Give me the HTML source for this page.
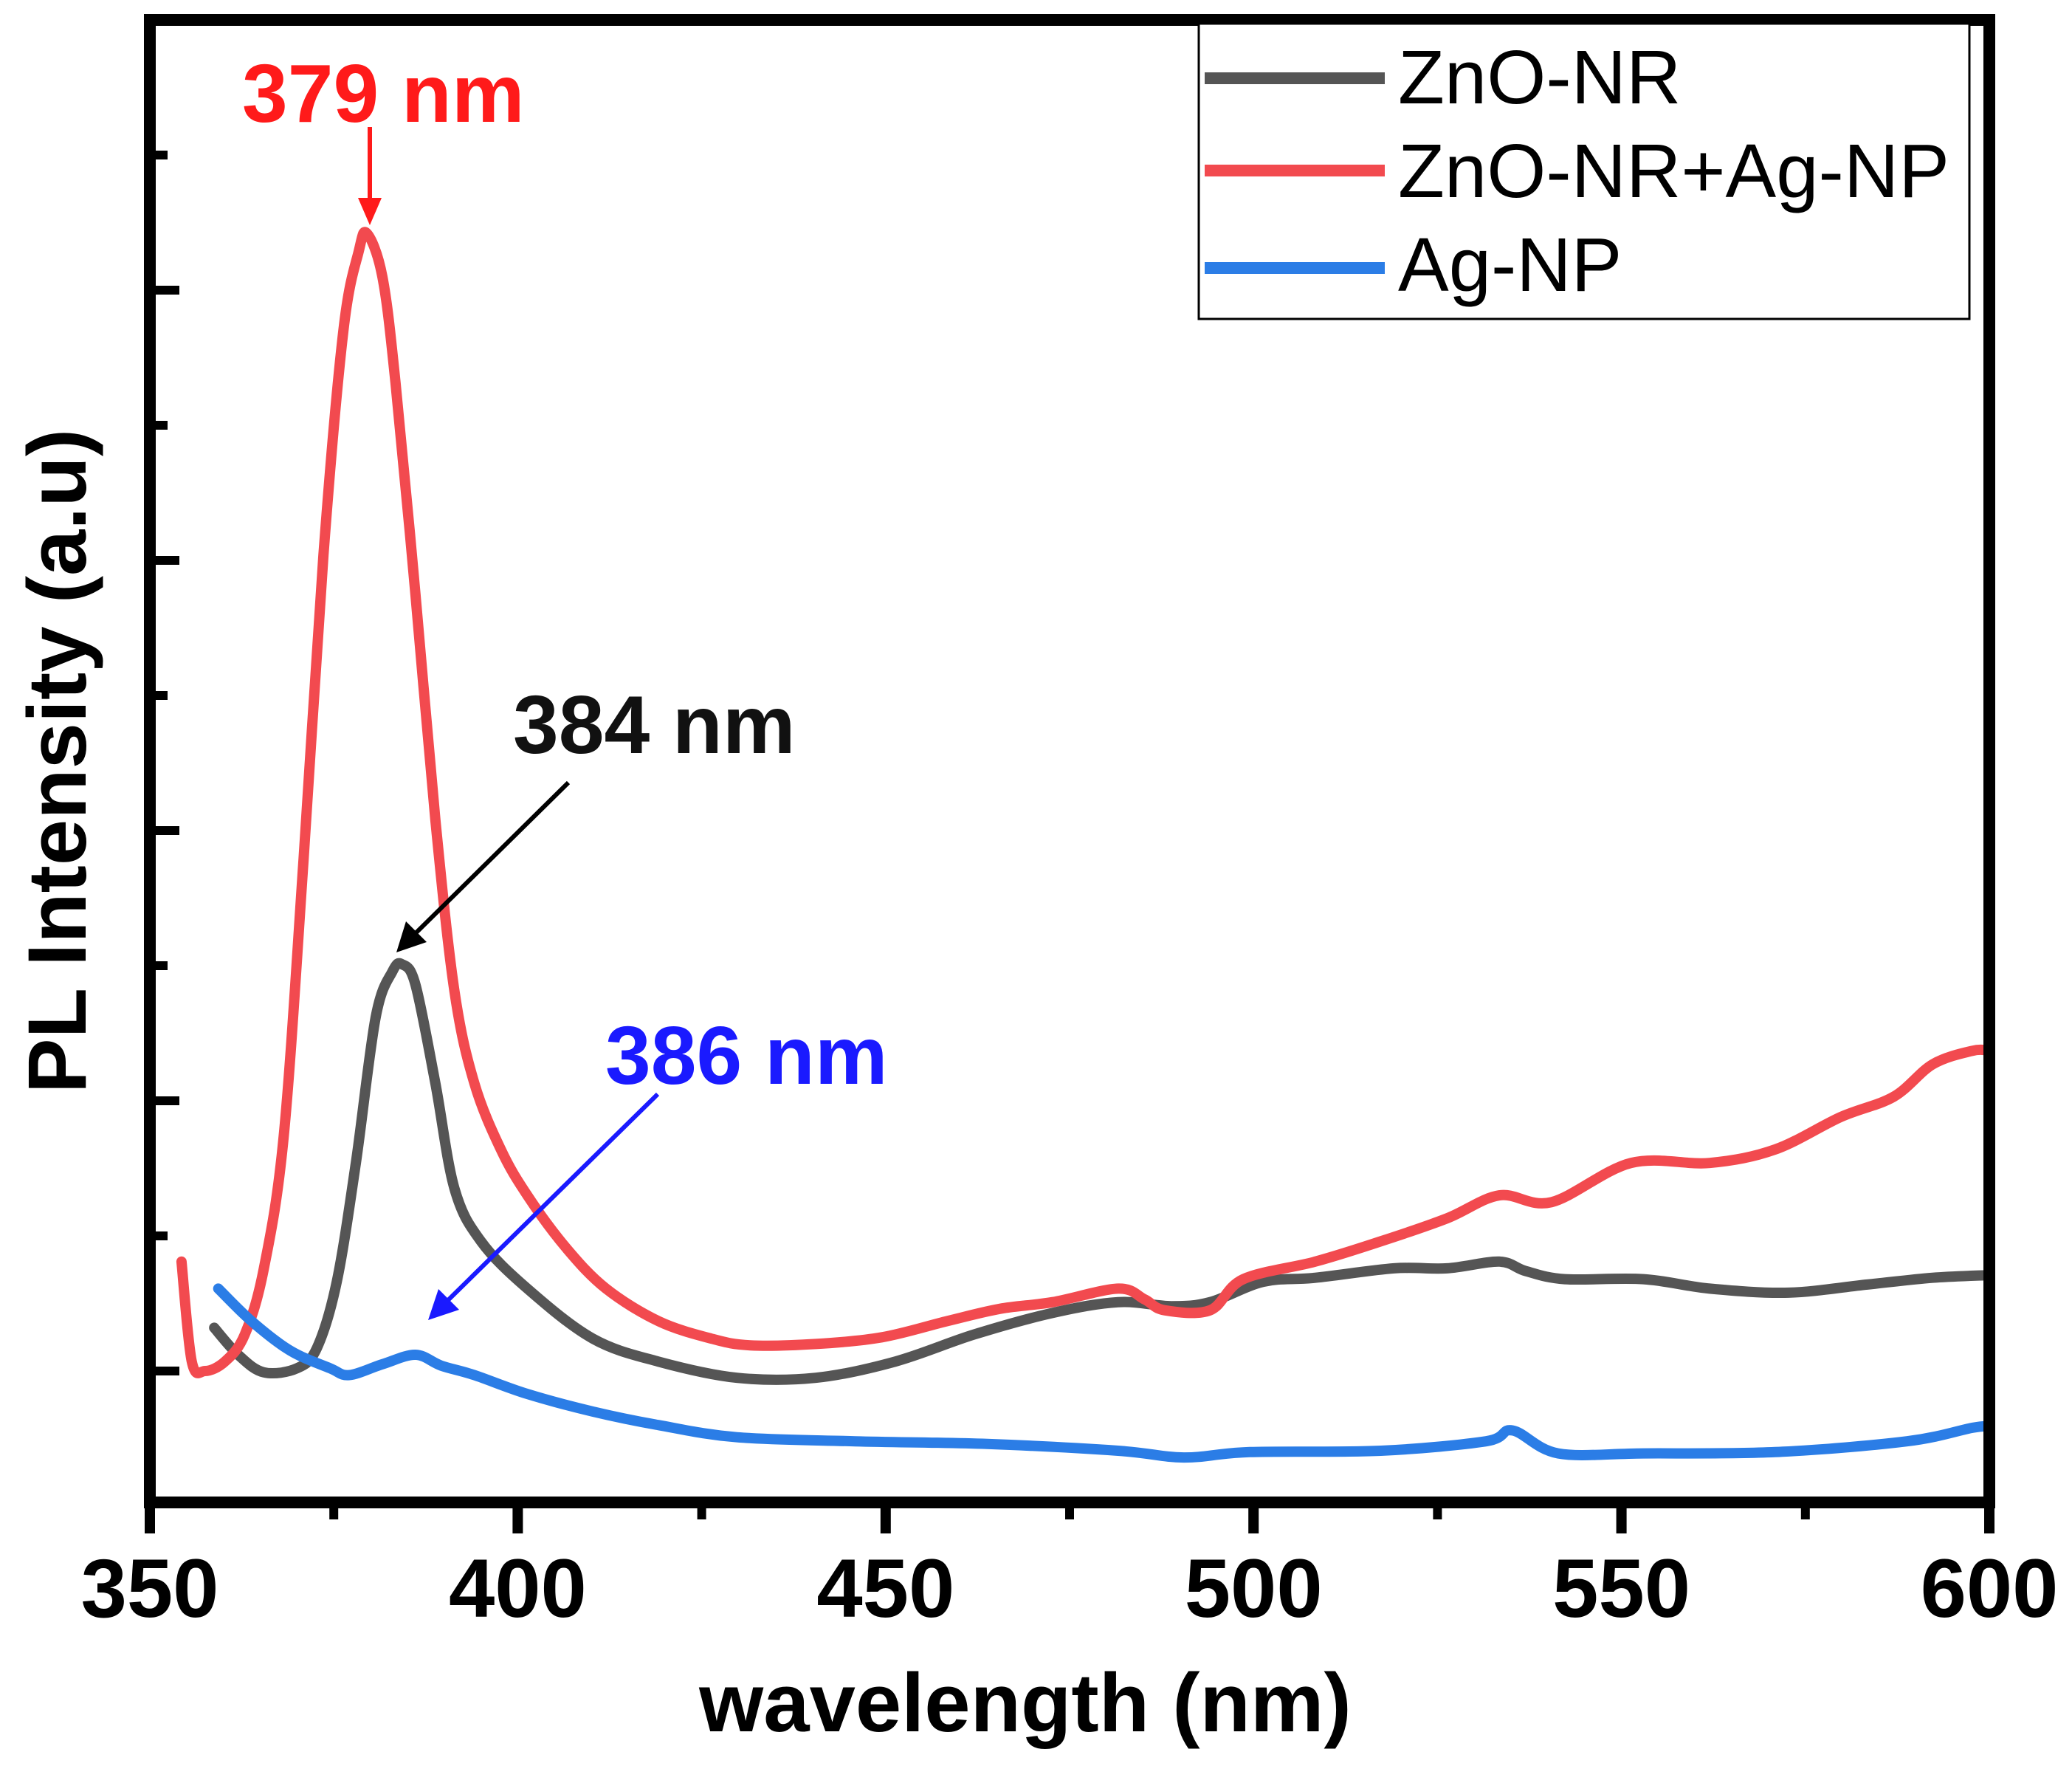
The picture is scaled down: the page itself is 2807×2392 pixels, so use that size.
<!DOCTYPE html>
<html><head><meta charset="utf-8"><style>
html,body{margin:0;padding:0;background:#fff;}
svg{display:block;font-family:"Liberation Sans",Arial,sans-serif;}
</style></head><body>
<svg id="chart" width="2807" height="2392" viewBox="0 0 2807 2392">
<g id="series"></g>
<g id="axes"></g>
<text x="1389" y="2345" font-size="112" font-weight="bold" text-anchor="middle">wavelength (nm)</text>
<text transform="translate(116,1031) rotate(-90)" font-size="112" font-weight="bold" text-anchor="middle">PL Intensity (a.u)</text>
<g>
<rect x="1624" y="32" width="1044" height="400" fill="#fff" stroke="#000" stroke-width="3"/>
<line x1="1632" y1="106" x2="1876" y2="106" stroke="#555555" stroke-width="16"/>
<text x="1894" y="140" font-size="103">ZnO-NR</text>
<line x1="1632" y1="231" x2="1876" y2="231" stroke="#f24a4f" stroke-width="16"/>
<text x="1894" y="267" font-size="103">ZnO-NR+Ag-NP</text>
<line x1="1632" y1="363" x2="1876" y2="363" stroke="#2b7de6" stroke-width="16"/>
<text x="1894" y="394" font-size="103">Ag-NP</text>
</g>
<g>
<text x="328" y="165" font-size="111" font-weight="bold" fill="#ff1a1a">379 nm</text>
<line x1="501" y1="172" x2="501" y2="270" stroke="#ff1a1a" stroke-width="6"/>
<polygon points="485,268 517,268 501,305" fill="#ff1a1a"/>
<text x="695" y="1020" font-size="111" font-weight="bold" fill="#111">384 nm</text>
<line x1="770" y1="1060" x2="562" y2="1265" stroke="#000" stroke-width="6"/>
<polygon points="537,1290 550,1248 578,1276" fill="#000"/>
<text x="820" y="1468" font-size="111" font-weight="bold" fill="#1a1aff">386 nm</text>
<line x1="891" y1="1482" x2="606" y2="1762" stroke="#1a1aff" stroke-width="6"/>
<polygon points="580,1788 594,1746 622,1774" fill="#1a1aff"/>
</g>
</svg>
<script>
const xTicks = [350, 400, 450, 500, 550, 600];
const redX = [354.3,355.7,357.5,360.2,362.9,365.5,368.2,370.9,373.6,376.3,378.4,379.5,381.6,383.4,386.1,388.8,391.4,394.1,397.7,401.3,406.6,412,419.1,426.3,431.6,440.5,449.5,458.4,465.5,472.7,481.6,485.2,487.9,494.1,498.6,508.4,517.3,526.3,533.4,540.5,551.3,562,570.9,579.8,587,592.3,597.7,600];
const redY = [0.81,0.07,0,0.07,0.27,0.76,1.74,3.79,6.04,7.7,8.29,8.42,8.1,7.31,5.75,4.08,2.81,2.13,1.64,1.3,0.91,0.61,0.37,0.24,0.19,0.2,0.25,0.37,0.46,0.51,0.61,0.53,0.45,0.45,0.68,0.81,0.96,1.13,1.3,1.25,1.54,1.54,1.64,1.88,2.03,2.27,2.37,2.37];
const blackX = [358.75,362,365.5,370,372.7,375.4,378,380.7,383,384.3,386.1,388.8,391.4,395,401.3,410.2,419.1,429.8,440.5,451.3,462,472.7,481.6,488.8,494.1,501.3,508.4,519.1,526.3,533.4,537,542.3,553,562,572.7,583.4,592.3,600];
const blackY = [0.32,0.12,-0.01,0.02,0.17,0.66,1.54,2.62,2.96,3.01,2.86,2.13,1.35,0.96,0.61,0.24,0.07,-0.05,-0.05,0.07,0.27,0.43,0.51,0.48,0.51,0.66,0.69,0.76,0.76,0.81,0.74,0.68,0.68,0.61,0.58,0.64,0.69,0.71];
const blueX = [359.3,363.8,369.1,374.5,377.1,381.6,386.1,389.6,394.1,401.3,410.2,419.1,429.8,445.9,463.8,481.6,490.5,499.5,517.3,531.6,535.2,541.4,553,570.9,588.8,597.7,600];
const blueY = [0.61,0.37,0.15,0.02,-0.03,0.05,0.12,0.04,-0.03,-0.17,-0.3,-0.4,-0.49,-0.52,-0.54,-0.59,-0.64,-0.6,-0.59,-0.52,-0.44,-0.61,-0.61,-0.6,-0.52,-0.42,-0.41];
const yMajor = [0, 2, 4, 6, 8];
const yMinor = [1, 3, 5, 7, 9];
const xMinor = [375, 425, 475, 525, 575];

const NS = "http://www.w3.org/2000/svg";
const X0 = 203, X1 = 2695, Y_TOP = 27, Y_BOT = 2035;
function sx(w){ return X0 + (w - 350) / 250 * (X1 - X0); }
function sy(v){ return 1857 - v * 183; }
function mk(tag, attrs, parent){ const e = document.createElementNS(NS, tag); for (const k in attrs) e.setAttribute(k, attrs[k]); parent.appendChild(e); return e; }

const series = document.getElementById('series');
function drawLine(xs, ys, color, name){
  const P = xs.map(function(x, i){ return [sx(x), sy(ys[i])]; });
  let d = 'M' + P[0][0].toFixed(1) + ',' + P[0][1].toFixed(1);
  for (let i = 0; i < P.length - 1; i++) {
    const p0 = P[Math.max(0, i - 1)], p1 = P[i], p2 = P[i + 1], p3 = P[Math.min(P.length - 1, i + 2)];
    const c1x = p1[0] + (p2[0] - p0[0]) / 6, c1y = p1[1] + (p2[1] - p0[1]) / 6;
    const c2x = p2[0] - (p3[0] - p1[0]) / 6, c2y = p2[1] - (p3[1] - p1[1]) / 6;
    d += 'C' + c1x.toFixed(1) + ',' + c1y.toFixed(1) + ' ' + c2x.toFixed(1) + ',' + c2y.toFixed(1) + ' ' + p2[0].toFixed(1) + ',' + p2[1].toFixed(1);
  }
  const p = mk('path', {d: d, fill: 'none', stroke: color, 'stroke-width': 14, 'stroke-linejoin': 'round', 'stroke-linecap': 'round'}, series);
  
  
}
drawLine(blackX, blackY, '#555555', 'line-zno-nr');
drawLine(redX, redY, '#f24a4f', 'line-zno-nr-ag-np');
drawLine(blueX, blueY, '#2b7de6', 'line-ag-np');

const axes = document.getElementById('axes');
const frame = mk('rect', {x: X0, y: Y_TOP, width: X1 - X0, height: Y_BOT - Y_TOP, fill: 'none', stroke: '#000', 'stroke-width': 16}, axes);


xTicks.forEach(function(t){
  const x = sx(t);
  const tk = mk('line', {x1: x, y1: Y_BOT, x2: x, y2: 2077, stroke: '#000', 'stroke-width': 14}, axes);
  
  
  const lb = mk('text', {x: x, y: 2190, 'font-size': 112, 'font-weight': 'bold', 'text-anchor': 'middle'}, axes);
  lb.textContent = t;
  
  
});
xMinor.forEach(function(t){
  const tk = mk('line', {x1: sx(t), y1: Y_BOT, x2: sx(t), y2: 2058, stroke: '#000', 'stroke-width': 12}, axes);
  
  
});
yMajor.forEach(function(v){
  const tk = mk('line', {x1: X0, y1: sy(v), x2: X0 + 40, y2: sy(v), stroke: '#000', 'stroke-width': 12}, axes);
  
  
});
yMinor.forEach(function(v){
  const tk = mk('line', {x1: X0, y1: sy(v), x2: X0 + 24, y2: sy(v), stroke: '#000', 'stroke-width': 12}, axes);
  
  
});
</script>
</body></html>
